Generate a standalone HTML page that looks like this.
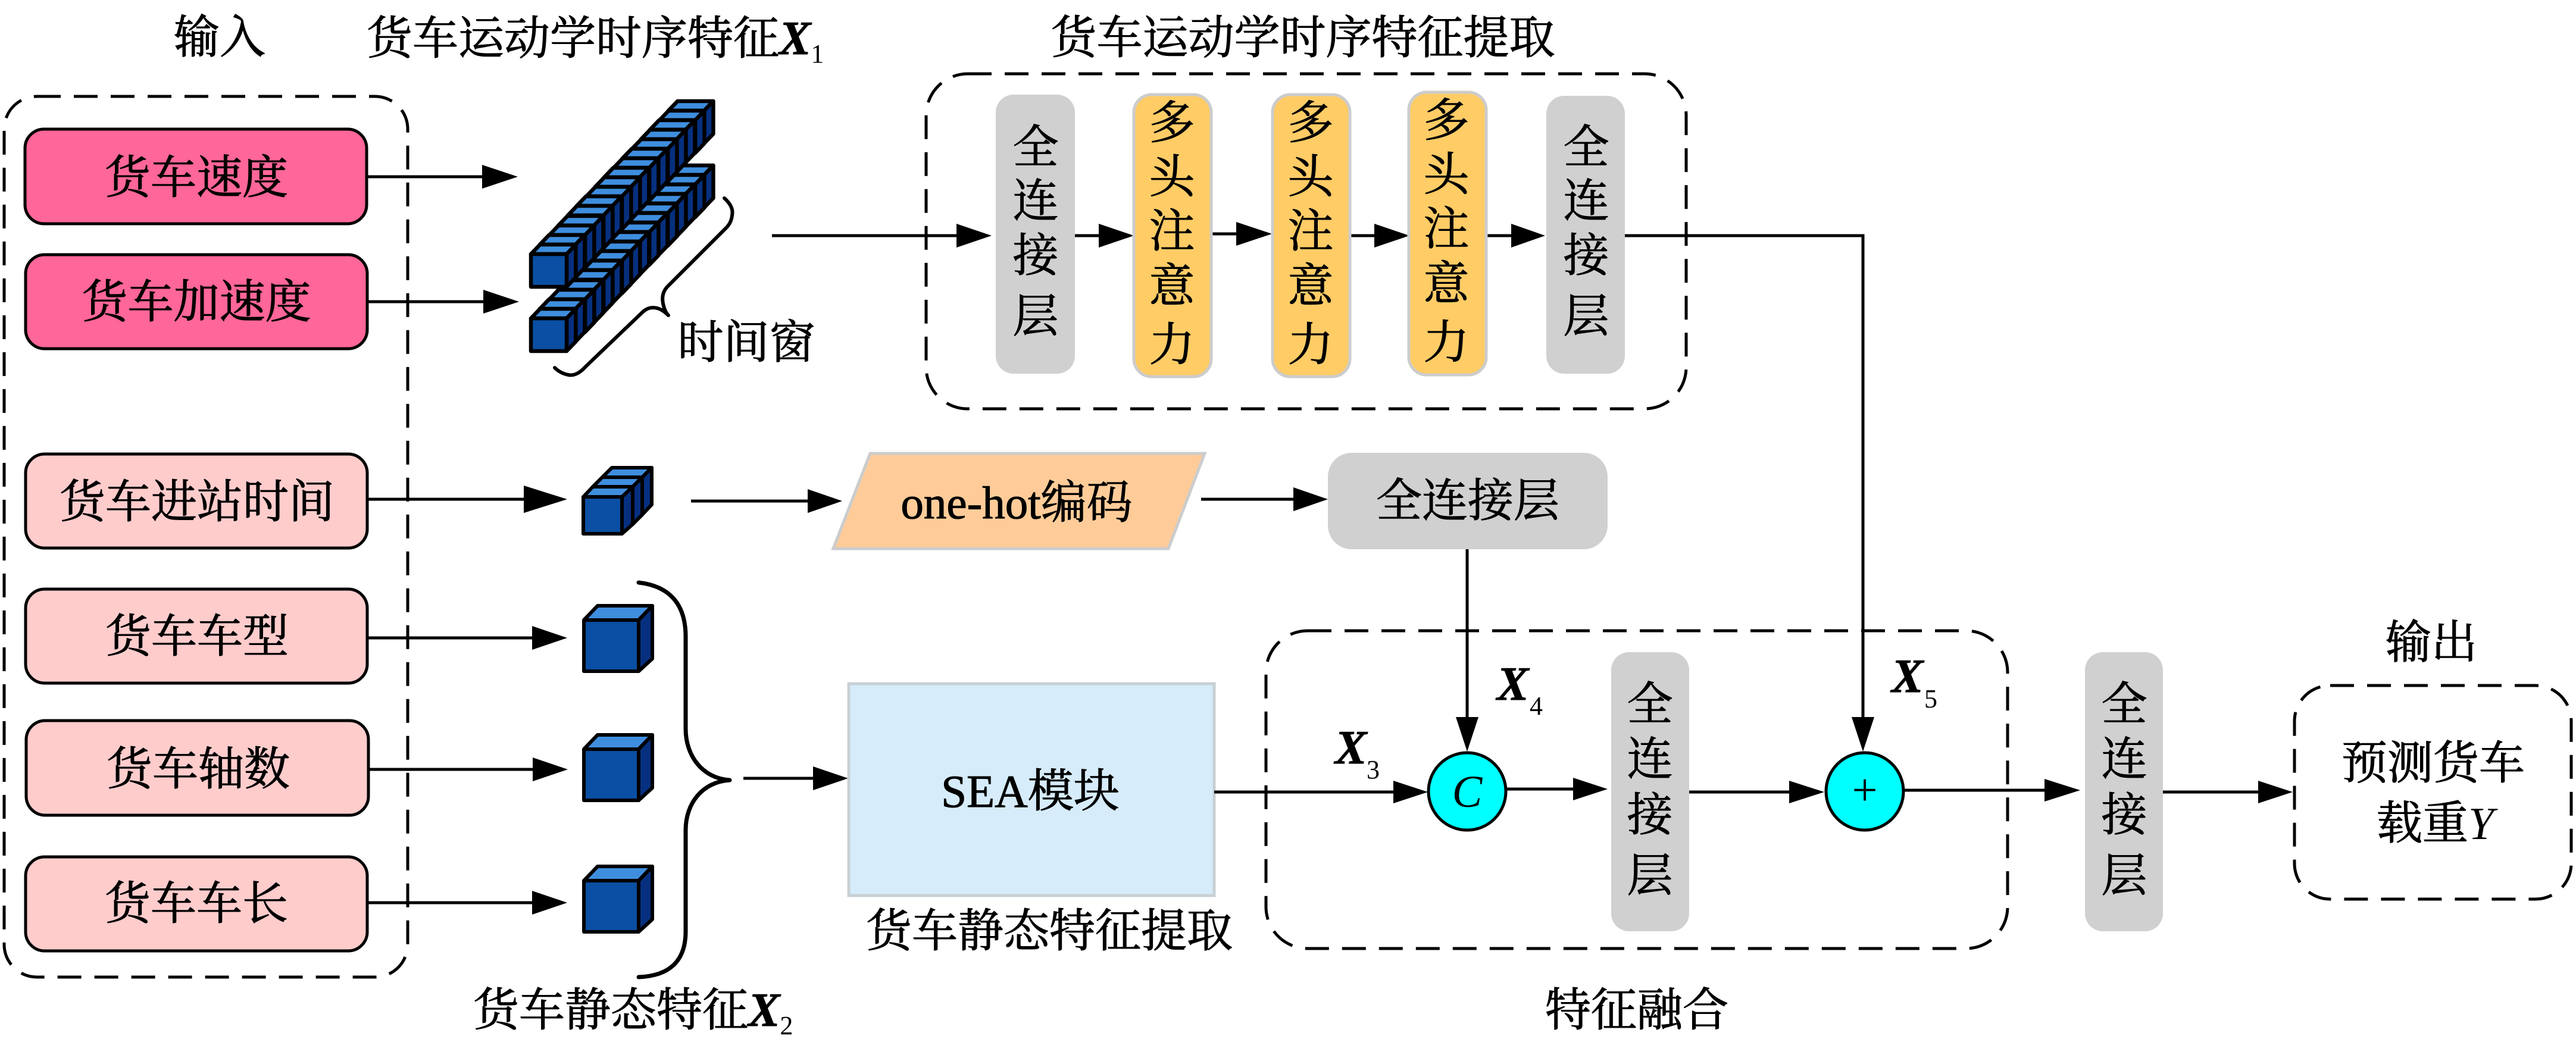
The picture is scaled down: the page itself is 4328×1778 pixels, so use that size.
<!DOCTYPE html>
<html><head><meta charset="utf-8">
<style>
html,body{margin:0;padding:0;background:#fff}
svg{display:block}
text{font-family:"Liberation Serif","Noto Serif CJK SC",serif;font-size:77px;fill:#000;stroke:#000;stroke-width:1.1px}
.m{text-anchor:middle}
.i{font-style:italic}
.x{font-style:italic;font-weight:bold;font-size:80px}
.s{font-size:44px;stroke-width:0}
.d{fill:none;stroke:#000;stroke-width:5;stroke-dasharray:40 22}
.l{stroke:#000;stroke-width:5;fill:none}
.b{stroke:#000;stroke-width:5}
.g{fill:#d0d0d0}
.o{fill:#ffcc66;stroke:#ccc;stroke-width:5}
.br{fill:none;stroke:#000;stroke-linecap:round;stroke-linejoin:round}
</style></head>
<body>
<svg xmlns="http://www.w3.org/2000/svg" width="4328" height="1778" viewBox="0 0 4328 1778">
<defs>
<g id="c" stroke="#000" stroke-width="6.5" stroke-linejoin="round">
<polygon points="0,0 15.4,-16 75.4,-16 60,0" fill="#3f8ede"/>
<polygon points="60,0 75.4,-16 75.4,39 60,55" fill="#06307f"/>
<rect width="60" height="55" fill="#0a4fa3"/>
</g>
<g id="k" stroke="#000" stroke-width="6" stroke-linejoin="round">
<polygon points="0,0 23,-24 115,-24 92,0" fill="#3f8ede"/>
<polygon points="92,0 115,-24 115,65 92,86" fill="#06307f"/>
<rect width="92" height="86" fill="#0a4fa3"/>
</g>
</defs>

<!-- dashed groups -->
<rect class="d" x="7" y="162" width="678" height="1480" rx="55"/>
<rect class="d" x="1556" y="124" width="1277" height="563" rx="70"/>
<rect class="d" x="2127" y="1060" width="1246" height="534" rx="70"/>
<rect class="d" x="3855" y="1152" width="465" height="359" rx="60"/>

<!-- input boxes -->
<rect class="b" x="42" y="217" width="574" height="159" rx="32" fill="#ff6699"/>
<rect class="b" x="43" y="428" width="574" height="158" rx="32" fill="#ff6699"/>
<rect class="b" x="43" y="763" width="574" height="158" rx="32" fill="#ffcccc"/>
<rect class="b" x="43" y="990" width="574" height="158" rx="32" fill="#ffcccc"/>
<rect class="b" x="44" y="1211" width="575" height="159" rx="32" fill="#ffcccc"/>
<rect class="b" x="43" y="1440" width="574" height="158" rx="32" fill="#ffcccc"/>
<text class="m" x="330" y="325">货车速度</text>
<text class="m" x="330" y="534">货车加速度</text>
<text class="m" x="331" y="870">货车进站时间</text>
<text class="m" x="331" y="1096">货车车型</text>
<text class="m" x="333" y="1319">货车轴数</text>
<text class="m" x="330" y="1545">货车车长</text>

<!-- input arrows -->
<line class="l" x1="617" y1="297" x2="815" y2="297"/><polygon points="810,277 870,297 810,317"/>
<line class="l" x1="617" y1="507" x2="817" y2="507"/><polygon points="812,487 872,507 812,527"/>
<line class="l" x1="617" y1="839" x2="885" y2="839"/><polygon points="880,816 953,839 880,862"/>
<line class="l" x1="617" y1="1072" x2="899" y2="1072"/><polygon points="894,1052 953,1072 894,1092"/>
<line class="l" x1="619" y1="1293" x2="899" y2="1293"/><polygon points="895,1273 954,1293 895,1313"/>
<line class="l" x1="617" y1="1517" x2="899" y2="1517"/><polygon points="894,1497 953,1517 894,1537"/>

<!-- lower stack -->
<g>
<use href="#c" transform="translate(1123,294)"/><use href="#c" transform="translate(1108,310)"/><use href="#c" transform="translate(1092,326)"/><use href="#c" transform="translate(1077,342)"/>
<use href="#c" transform="translate(1062,358)"/><use href="#c" transform="translate(1046,374)"/><use href="#c" transform="translate(1031,390)"/><use href="#c" transform="translate(1015,406)"/>
<use href="#c" transform="translate(1000,422)"/><use href="#c" transform="translate(985,438)"/><use href="#c" transform="translate(969,454)"/><use href="#c" transform="translate(954,470)"/>
<use href="#c" transform="translate(938,487)"/><use href="#c" transform="translate(923,503)"/><use href="#c" transform="translate(907,519)"/><use href="#c" transform="translate(892,535)"/>
</g>
<!-- upper stack -->
<g>
<use href="#c" transform="translate(1123,186)"/><use href="#c" transform="translate(1108,202)"/><use href="#c" transform="translate(1092,218)"/><use href="#c" transform="translate(1077,234)"/>
<use href="#c" transform="translate(1062,250)"/><use href="#c" transform="translate(1046,266)"/><use href="#c" transform="translate(1031,282)"/><use href="#c" transform="translate(1015,298)"/>
<use href="#c" transform="translate(1000,314)"/><use href="#c" transform="translate(985,330)"/><use href="#c" transform="translate(969,346)"/><use href="#c" transform="translate(954,362)"/>
<use href="#c" transform="translate(938,379)"/><use href="#c" transform="translate(923,395)"/><use href="#c" transform="translate(907,411)"/><use href="#c" transform="translate(892,427)"/>
</g>
<!-- small brace -->
<path class="br" stroke-width="6" d="M1217,333 C1228,343 1232,352 1230,362 C1229,372 1225,378 1220,383 L1122,481 C1113,490 1112,500 1114,510 C1116,520 1119,526 1123,530 C1113,520 1105,517 1097,517 C1088,517 1082,522 1077,527 L983,617 C975,626 965,632 955,630 C945,628 938,624 932,618"/>

<!-- triple cube -->
<g stroke="#000" stroke-width="6" stroke-linejoin="round">
<polygon points="1012,802 1028,786 1095,786 1079,802" fill="#3f8ede"/>
<polygon points="1079,802 1095,786 1095,848 1079,865" fill="#06307f"/>
<polygon points="996,818 1012,802 1079,802 1063,818" fill="#3f8ede"/>
<polygon points="1063,818 1079,802 1079,865 1063,881" fill="#06307f"/>
<polygon points="980,835 996,818 1063,818 1045,835" fill="#3f8ede"/>
<polygon points="1045,835 1063,818 1063,881 1045,897" fill="#06307f"/>
<rect x="980" y="835" width="65" height="62" fill="#0a4fa3"/>
</g>
<!-- single cubes -->
<use href="#k" transform="translate(981,1042)"/>
<use href="#k" transform="translate(981,1259)"/>
<use href="#k" transform="translate(981,1480)"/>

<!-- large brace -->
<path class="br" stroke-width="7" d="M1073,979 C1125,985 1152,1015 1152,1070 L1152,1225 C1152,1270 1180,1308 1226,1311 C1180,1314 1152,1350 1152,1395 L1152,1565 C1152,1615 1125,1640 1073,1642"/>
<line class="l" x1="1249" y1="1308" x2="1371" y2="1308"/><polygon points="1366,1288 1425,1308 1366,1328"/>

<!-- SEA -->
<rect x="1426" y="1149" width="614" height="356" fill="#d6ecfa" stroke="#c8d0d4" stroke-width="5"/>
<text class="m" x="1731" y="1356">SEA模块</text>

<!-- temporal arrows -->
<line class="l" x1="1297" y1="396" x2="1612" y2="396"/><polygon points="1607,376 1666,396 1607,416"/>
<line class="l" x1="1802" y1="396" x2="1851" y2="396"/><polygon points="1846,376 1905,396 1846,416"/>
<line class="l" x1="2033" y1="393" x2="2082" y2="393"/><polygon points="2077,373 2137,393 2077,413"/>
<line class="l" x1="2266" y1="396" x2="2314" y2="396"/><polygon points="2309,376 2368,396 2309,416"/>
<line class="l" x1="2495" y1="396" x2="2544" y2="396"/><polygon points="2539,376 2596,396 2539,416"/>
<path class="l" d="M2726,396 L3130,396 L3130,1210"/>
<polygon points="3111,1205 3149,1205 3130,1263"/>

<!-- temporal blocks -->
<rect class="g" x="1673" y="159" width="133" height="469" rx="30"/>
<rect class="o" x="1905" y="159" width="130" height="474" rx="30"/>
<rect class="o" x="2138" y="159" width="130" height="474" rx="30"/>
<rect class="o" x="2367" y="155" width="130" height="475" rx="30"/>
<rect class="g" x="2598" y="161" width="132" height="467" rx="30"/>
<g>
<text class="m" x="1740" y="274">全</text><text class="m" x="1740" y="364">连</text><text class="m" x="1740" y="456">接</text><text class="m" x="1740" y="558">层</text>
<text class="m" x="1969" y="233">多</text><text class="m" x="1969" y="324">头</text><text class="m" x="1969" y="415">注</text><text class="m" x="1969" y="507">意</text><text class="m" x="1969" y="606">力</text>
<text class="m" x="2202" y="233">多</text><text class="m" x="2202" y="324">头</text><text class="m" x="2202" y="415">注</text><text class="m" x="2202" y="507">意</text><text class="m" x="2202" y="606">力</text>
<text class="m" x="2430" y="229">多</text><text class="m" x="2430" y="320">头</text><text class="m" x="2430" y="411">注</text><text class="m" x="2430" y="503">意</text><text class="m" x="2430" y="602">力</text>
<text class="m" x="2665" y="274">全</text><text class="m" x="2665" y="364">连</text><text class="m" x="2665" y="456">接</text><text class="m" x="2665" y="558">层</text>
</g>

<!-- one-hot row -->
<line class="l" x1="1161" y1="842" x2="1362" y2="842"/><polygon points="1357,822 1415,842 1357,862"/>
<polygon points="1462,762 2024,762 1963,922 1400,922" fill="#ffcc99" stroke="#ccc" stroke-width="5"/>
<text class="m" x="1708" y="871">one-hot编码</text>
<line class="l" x1="2018" y1="839" x2="2178" y2="839"/><polygon points="2173,819 2231,839 2173,859"/>
<rect class="g" x="2231" y="761" width="470" height="162" rx="40"/>
<text class="m" x="2466" y="868">全连接层</text>
<line class="l" x1="2465" y1="923" x2="2465" y2="1210"/>
<polygon points="2446,1205 2484,1205 2465,1263"/>

<!-- fusion arrows -->
<line class="l" x1="2040" y1="1331" x2="2346" y2="1331"/><polygon points="2341,1312 2399,1331 2341,1350"/>
<line class="l" x1="2530" y1="1326" x2="2648" y2="1326"/><polygon points="2643,1307 2701,1326 2643,1345"/>
<line class="l" x1="2838" y1="1331" x2="3011" y2="1331"/><polygon points="3006,1312 3065,1331 3006,1350"/>
<line class="l" x1="3198" y1="1328" x2="3440" y2="1328"/><polygon points="3435,1309 3495,1328 3435,1347"/>
<line class="l" x1="3631" y1="1331" x2="3799" y2="1331"/><polygon points="3794,1312 3852,1331 3794,1350"/>

<!-- circles -->
<circle cx="2465" cy="1330" r="65" fill="#00ffff" stroke="#000" stroke-width="5"/>
<circle cx="3133" cy="1330" r="65" fill="#00ffff" stroke="#000" stroke-width="5"/>
<text class="m i" x="2465" y="1356" style="font-size:76px;stroke-width:0">C</text>
<text class="m" x="3133" y="1353" style="font-size:76px;stroke-width:0">+</text>

<!-- fusion blocks -->
<rect class="g" x="2707" y="1096" width="131" height="469" rx="30"/>
<rect class="g" x="3503" y="1096" width="131" height="469" rx="30"/>
<text class="m" x="2772" y="1210">全</text><text class="m" x="2772" y="1302">连</text><text class="m" x="2772" y="1396">接</text><text class="m" x="2772" y="1498">层</text>
<text class="m" x="3569" y="1210">全</text><text class="m" x="3569" y="1302">连</text><text class="m" x="3569" y="1396">接</text><text class="m" x="3569" y="1498">层</text>

<!-- output -->
<text class="m" x="4088" y="1309">预测货车</text>
<text x="3993" y="1410">载重<tspan class="i" style="stroke-width:0">Y</tspan></text>

<!-- labels -->
<text class="m" x="369" y="89">输入</text>
<text x="616" y="91">货车运动学时序特征<tspan class="x">X</tspan><tspan class="s" dy="14">1</tspan></text>
<text class="m" x="2189" y="90">货车运动学时序特征提取</text>
<text class="m" x="1254" y="602">时间窗</text>
<text x="795" y="1724">货车静态特征<tspan class="x">X</tspan><tspan class="s" dy="14">2</tspan></text>
<text class="m" x="1763" y="1591">货车静态特征提取</text>
<text class="m" x="2750" y="1724">特征融合</text>
<text class="m" x="4085" y="1106">输出</text>
<text class="x" x="2243" y="1283">X</text><text class="s" x="2296" y="1308">3</text>
<text class="x" x="2515" y="1176">X</text><text class="s" x="2570" y="1201">4</text>
<text class="x" x="3178" y="1163">X</text><text class="s" x="3233" y="1189">5</text>
</svg>
</body></html>
